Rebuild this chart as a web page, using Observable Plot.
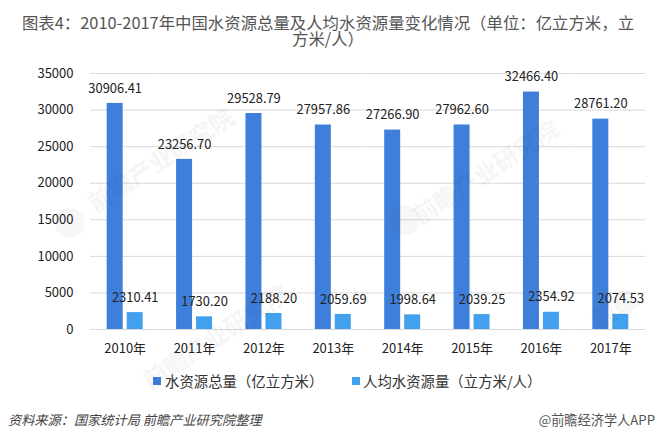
<!DOCTYPE html>
<html><head><meta charset="utf-8">
<script src="https://cdn.jsdelivr.net/npm/d3@7"></script>
<script src="https://cdn.jsdelivr.net/npm/@observablehq/plot@0.6"></script>
<style>
html,body{margin:0;padding:0;background:#fff;width:656px;height:440px;overflow:hidden;font-family:"Noto Sans CJK SC","Noto Sans",sans-serif;}
#title{height:52px;box-sizing:border-box;padding-top:14px;text-align:center;font-size:16.4px;line-height:16px;color:#555;white-space:nowrap;}
#chart{height:310px;}
#chart svg{display:block;}
#legend{position:relative;height:38px;font-size:14.4px;color:#333;}
#legend span{position:absolute;top:9px;line-height:20px;white-space:nowrap;}
#legend i{position:absolute;top:15px;width:8px;height:8px;}
#foot{position:relative;height:40px;}
#foot span{position:absolute;top:10px;line-height:20px;white-space:nowrap;}
.wm{position:absolute;color:#000;opacity:.035;font-size:24px;font-weight:700;transform:rotate(-33deg);white-space:nowrap;pointer-events:none;}
.logo{position:absolute;width:30px;height:30px;border-radius:50%;background:#000;opacity:.03;pointer-events:none;}
</style></head><body>
<div id="title">图表4：2010-2017年中国水资源总量及人均水资源量变化情况（单位：亿立方米，立<br>方米/人）</div>
<div id="chart"></div>
<div id="legend"></div>
<div id="foot"><span style="left:8px;font-size:13.2px;font-style:italic;color:#444">资料来源：国家统计局 前瞻产业研究院整理</span><span style="right:1px;font-size:13.2px;color:#555">@前瞻经济学人APP</span></div>
<div class="wm" style="left:76px;top:141px">前瞻产业研究院</div>
<div class="wm" style="left:401px;top:153px">前瞻产业研究院</div>
<div class="wm" style="left:131px;top:318px">前瞻产业研究院</div>
<div class="wm" style="left:590px;top:290px">前瞻</div>
<div class="logo" style="left:55px;top:208px"></div>
<div class="logo" style="left:390px;top:205px"></div>
<script>
const years = ["2010","2011","2012","2013","2014","2015","2016","2017"];
const totalWater = [30906.41,23256.70,29528.79,27957.86,27266.90,27962.60,32466.40,28761.20];
const perCapita = [2310.41,1730.20,2188.20,2059.69,1998.64,2039.25,2354.92,2074.53];
const seriesNames = ["水资源总量（亿立方米）","人均水资源量（立方米/人）"];
const seriesColors = ["#3f7fdc","#42a0ee"];
const yTicks = [0,5000,10000,15000,20000,25000,30000,35000];

const rows = years.flatMap((y,i)=>[
  {year:y,series:seriesNames[0],value:totalWater[i]},
  {year:y,series:seriesNames[1],value:perCapita[i]}
]);
const font = '"Noto Sans CJK SC","Noto Sans",sans-serif';
const plot = Plot.plot({
  width:656,height:310,
  marginTop:21,marginBottom:33,marginLeft:90,marginRight:11,
  style:{background:"transparent",fontFamily:font,fontSize:"13px",color:"#222"},
  y:{domain:[0,35000],label:null},
  fx:{domain:years,padding:0,round:false,label:null},
  x:{domain:seriesNames,paddingInner:0.2,paddingOuter:0.835,round:false,axis:null,label:null},
  color:{domain:seriesNames,range:seriesColors},
  marks:[
    Plot.ruleY(yTicks,{stroke:"#d9d9d9",strokeWidth:1}),
    Plot.axisY({ticks:yTicks,tickSize:0,tickPadding:17,fontSize:13,label:null,tickFormat:d=>String(d),fill:"#222"}),
    Plot.axisFx({anchor:"bottom",tickSize:0,tickPadding:14,fontSize:13,label:null,tickFormat:d=>d+"年",fill:"#222"}),
    Plot.barY(rows,{fx:"year",x:"series",y:"value",fill:"series"}),
    Plot.text(rows,{fx:"year",x:"series",y:"value",text:d=>d.value.toFixed(2),dy:-15,fill:"#222",fontSize:12.9})
  ]
});
document.getElementById("chart").appendChild(plot);
const lg=document.getElementById("legend");
[[153,165],[352,363]].forEach(([sx,tx],i)=>{
  const sw=document.createElement("i");sw.style.left=sx+"px";sw.style.background=seriesColors[i];lg.appendChild(sw);
  const t=document.createElement("span");t.style.left=tx+"px";t.textContent=seriesNames[i];lg.appendChild(t);
});
</script></body></html>
